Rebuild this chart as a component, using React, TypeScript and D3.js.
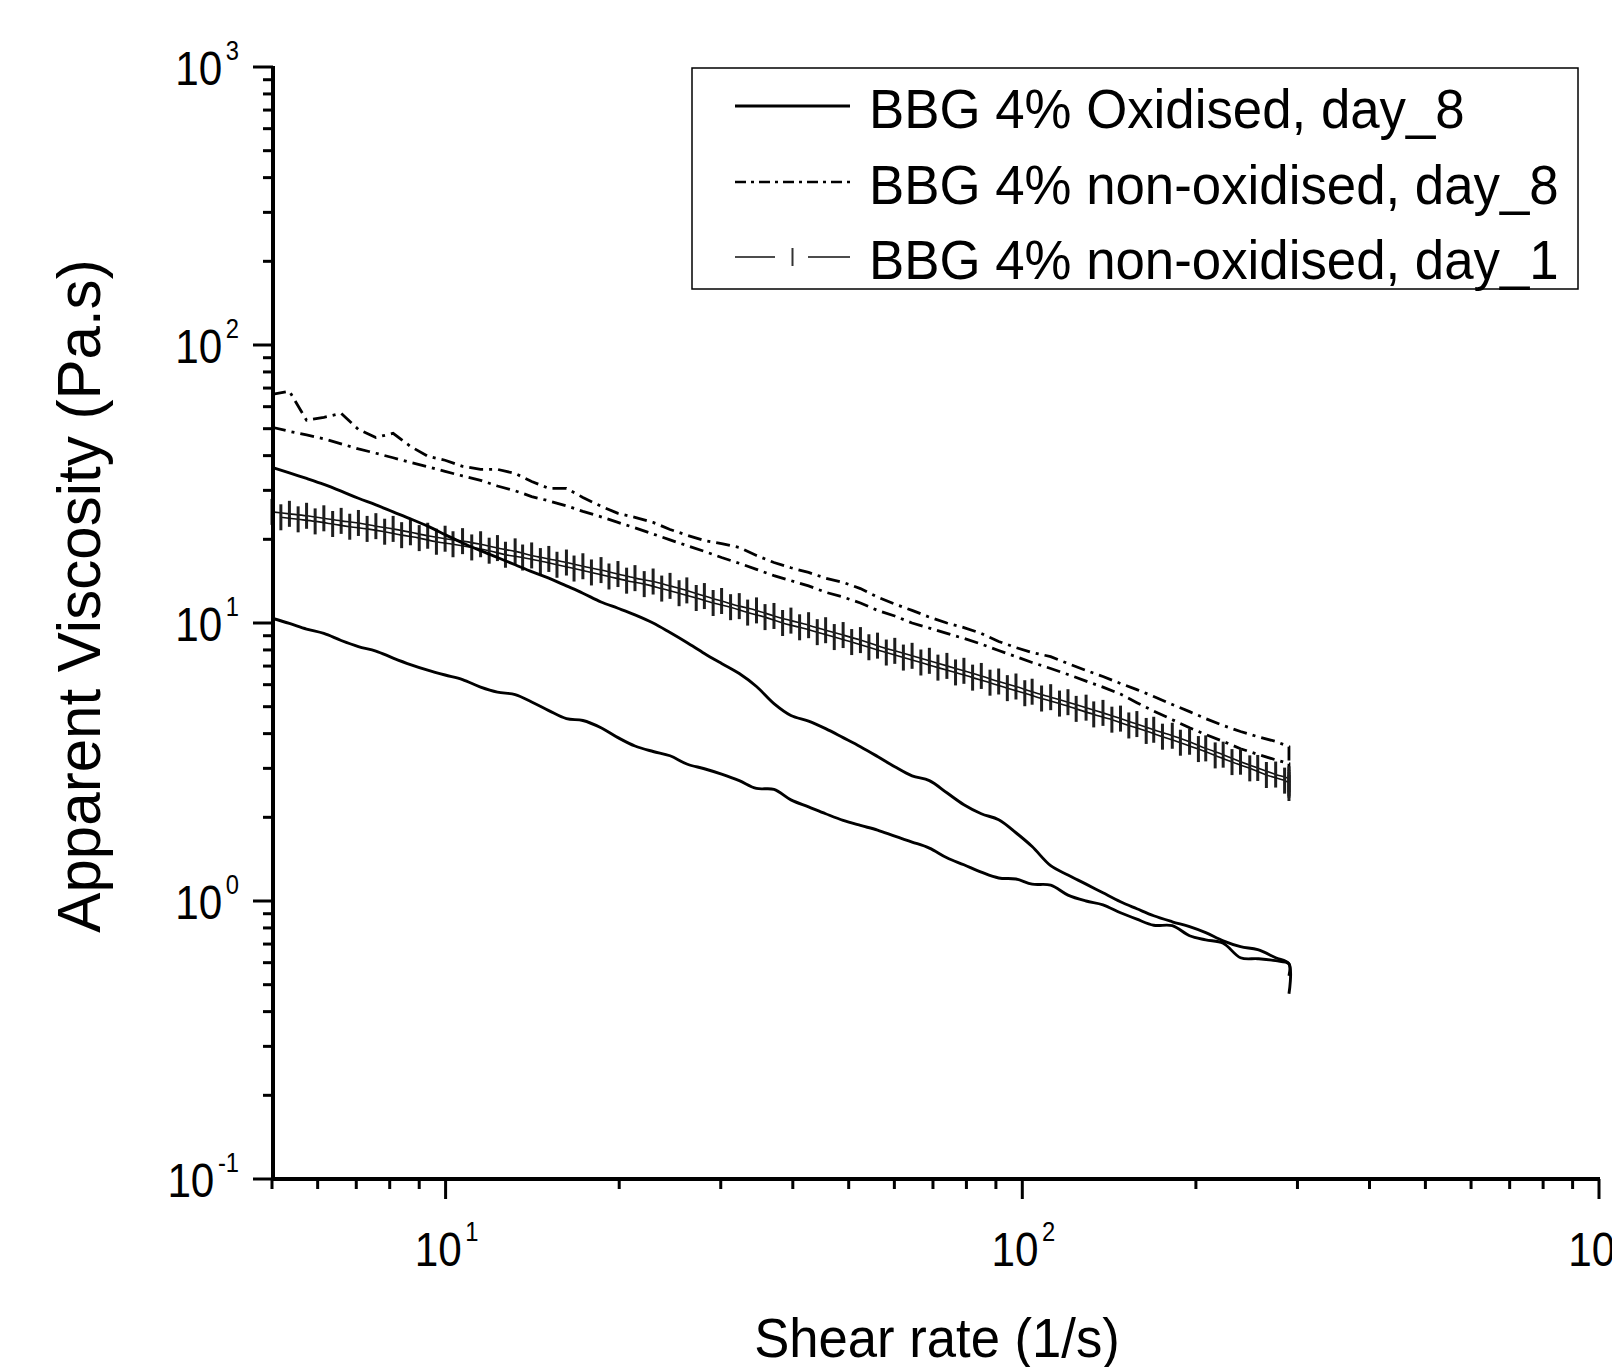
import React from "react";
import * as d3 from "d3";

// shear rate grid (1/s) of the sweeps, last point repeated at the end of the sweep
const shearRate = [
  5.0, 5.36, 5.74, 6.15, 6.59, 7.06, 7.57, 8.11, 8.69, 9.31,
  9.98, 10.7, 11.5, 12.3, 13.2, 14.1, 15.1, 16.2, 17.3, 18.6,
  19.9, 21.3, 22.9, 24.5, 26.2, 28.1, 30.1, 32.3, 34.6, 37.1,
  39.7, 42.6, 45.6, 48.9, 52.4, 56.1, 60.1, 64.4, 69.0, 74.0,
  79.2, 84.9, 91.0, 97.5, 104, 112, 120, 129, 138, 148,
  158, 169, 182, 195, 208, 223, 239, 256, 275, 290, 290,
];
// second replicate of day_1 was logged at slightly offset rates
const shearRateB = [
  5.18, 5.55, 5.94, 6.37, 6.82, 7.31, 7.84, 8.39, 9.0, 9.64,
  10.3, 11.1, 11.9, 12.7, 13.6, 14.6, 15.6, 16.7, 17.9, 19.2,
  20.6, 22.1, 23.7, 25.4, 27.2, 29.1, 31.2, 33.4, 35.8, 38.4,
  41.1, 44.1, 47.2, 50.6, 54.2, 58.1, 62.2, 66.7, 71.4, 76.6,
  82.0, 87.9, 94.2, 101, 108, 116, 124, 133, 143, 153,
  164, 175, 188, 202, 216, 231, 248, 265, 285, 290, 290,
];

// apparent viscosity (Pa.s)
const oxDay8A = [
  36.3, 34.7, 33.1, 31.5, 29.8, 28.1, 26.6, 25.1, 23.7, 22.3,
  20.8, 19.4, 18.2, 17.2, 16.2, 15.3, 14.5, 13.6, 12.8, 11.9,
  11.3, 10.7, 10.0, 9.24, 8.51, 7.77, 7.15, 6.58, 5.91, 5.13,
  4.65, 4.44, 4.17, 3.87, 3.59, 3.31, 3.04, 2.82, 2.71, 2.45,
  2.22, 2.06, 1.96, 1.76, 1.57, 1.34, 1.24, 1.15, 1.07, 0.994,
  0.938, 0.885, 0.842, 0.808, 0.769, 0.719, 0.685, 0.668, 0.625, 0.594, 0.464,
];
const oxDay8B = [
  10.4, 9.96, 9.51, 9.17, 8.65, 8.23, 7.93, 7.48, 7.09, 6.77,
  6.5, 6.26, 5.88, 5.64, 5.53, 5.2, 4.84, 4.53, 4.46, 4.2,
  3.87, 3.61, 3.45, 3.33, 3.11, 2.99, 2.86, 2.71, 2.54, 2.52,
  2.31, 2.18, 2.06, 1.95, 1.87, 1.8, 1.71, 1.63, 1.55, 1.43,
  1.35, 1.27, 1.21, 1.2, 1.15, 1.14, 1.05, 1.0, 0.969, 0.907,
  0.86, 0.818, 0.815, 0.75, 0.725, 0.705, 0.625, 0.62, 0.61, 0.594, 0.538,
];
const nonOxDay8A = [
  66.5, 68.2, 53.6, 54.9, 56.8, 49.7, 46.5, 48.1, 43.2, 39.8,
  38.5, 36.6, 35.7, 35.7, 34.5, 32.3, 30.5, 30.5, 28.3, 26.3,
  24.8, 24.0, 23.0, 21.7, 20.7, 19.8, 19.3, 18.7, 17.5, 16.5,
  15.8, 15.2, 14.5, 14.0, 13.3, 12.4, 11.7, 11.1, 10.5, 10.0,
  9.63, 9.17, 8.58, 8.16, 7.83, 7.57, 7.15, 6.75, 6.42, 6.06,
  5.76, 5.44, 5.09, 4.8, 4.53, 4.28, 4.07, 3.9, 3.75, 3.59, 3.15,
];
const nonOxDay8B = [
  50.6, 48.9, 47.5, 46.0, 44.1, 42.3, 40.8, 39.3, 37.8, 36.5,
  35.1, 33.8, 32.6, 31.1, 29.9, 28.5, 27.5, 26.4, 25.2, 24.1,
  23.0, 22.0, 20.9, 19.9, 19.0, 18.1, 17.2, 16.4, 15.6, 14.8,
  14.2, 13.6, 12.9, 12.4, 11.8, 11.1, 10.6, 10.0, 9.59, 9.17,
  8.8, 8.4, 7.96, 7.57, 7.21, 6.86, 6.53, 6.18, 5.88, 5.55,
  5.17, 4.82, 4.49, 4.2, 3.97, 3.75, 3.53, 3.37, 3.22, 3.12, 2.94,
];
const nonOxDay1A = [
  25.1, 24.7, 24.3, 23.8, 23.3, 22.9, 22.3, 21.8, 21.2, 20.6,
  20.1, 19.7, 19.2, 18.6, 18.1, 17.5, 17.0, 16.5, 16.0, 15.5,
  15.0, 14.5, 14.1, 13.6, 13.1, 12.5, 12.0, 11.5, 11.1, 10.6,
  10.2, 9.82, 9.42, 9.05, 8.68, 8.29, 7.94, 7.62, 7.31, 7.01,
  6.73, 6.45, 6.16, 5.91, 5.66, 5.41, 5.19, 4.96, 4.75, 4.53,
  4.33, 4.13, 3.93, 3.74, 3.54, 3.36, 3.17, 3.01, 2.85, 2.74, 2.62,
];
const nonOxDay1B = [
  24.0, 23.6, 23.2, 22.7, 22.2, 21.8, 21.3, 20.7, 20.2, 19.6,
  19.2, 18.7, 18.2, 17.6, 17.2, 16.7, 16.2, 15.7, 15.2, 14.7,
  14.2, 13.8, 13.3, 12.8, 12.3, 11.8, 11.4, 10.9, 10.5, 10.0,
  9.65, 9.27, 8.9, 8.54, 8.18, 7.83, 7.51, 7.21, 6.91, 6.64,
  6.36, 6.1, 5.83, 5.59, 5.35, 5.13, 4.91, 4.69, 4.49, 4.28,
  4.09, 3.9, 3.71, 3.52, 3.34, 3.16, 3.0, 2.84, 2.71, 2.66, 2.55,
];

const legendLabels = [
  "BBG 4% Oxidised, day_8",
  "BBG 4% non-oxidised, day_8",
  "BBG 4% non-oxidised, day_1",
];
const xTitle = "Shear rate (1/s)";
const yTitle = "Apparent Viscosity (Pa.s)";

const FONT = '"Liberation Sans", Arial, Helvetica, sans-serif';
const DASHDOT = "14 6 3 6";

type Pt = [number, number];

const PowLabel = ({ x, y, exp, anchor }: { x: number; y: number; exp: number; anchor: string }) => (
  <g transform={`translate(${x},${y}) scale(0.88,1)`}>
    <text textAnchor={anchor} fontSize={48} fontFamily={FONT} fill="#000">
      10
      <tspan dx={4} dy={-25} fontSize={27}>
        {String(exp)}
      </tspan>
    </text>
  </g>
);

export default function App() {
  const width = 1612;
  const height = 1367;
  const x = d3.scaleLog().domain([5, 1000]).range([272, 1599]);
  const y = d3.scaleLog().domain([0.1, 1000]).range([1179, 67]);

  const line = d3
    .line<Pt>()
    .x((d) => x(d[0]))
    .y((d) => y(d[1]));
  const smooth = d3
    .line<Pt>()
    .x((d) => x(d[0]))
    .y((d) => y(d[1]))
    .curve(d3.curveCatmullRom.alpha(0.5));
  const pts = (xs: number[], ys: number[]): Pt[] => ys.map((v, i) => [xs[i], v] as Pt);

  const isMajor = (v: number) => Math.abs(Math.log10(v) - Math.round(Math.log10(v))) < 1e-6;
  const xTicks = x.ticks();
  const yTicks = y.ticks();

  const axisX = x.range()[0] + 1;
  const axisY = y.range()[0];

  const day1 = [pts(shearRate, nonOxDay1A), pts(shearRateB, nonOxDay1B)];

  // legend rows
  const legX0 = 735;
  const legX1 = 850;
  const legRows = [106, 182, 257];

  return (
    <svg
      width={width}
      height={height}
      style={{ position: "absolute", left: 0, top: 0, background: "#fff" }}
    >
      <rect x={0} y={0} width={width} height={height} fill="#fff" />

      {/* non-oxidised day_8, dash-dot */}
      {[nonOxDay8A, nonOxDay8B].map((s, i) => (
        <path
          key={"n8" + i}
          d={line(pts(shearRate, s)) || ""}
          fill="none"
          stroke="#000"
          strokeWidth={2.8}
          strokeDasharray={DASHDOT}
        />
      ))}

      {/* non-oxidised day_1, thin line with vertical bar symbols */}
      {day1.map((p, i) => (
        <g key={"d1" + i}>
          <path d={smooth(p) || ""} fill="none" stroke="#111" strokeWidth={1.6} />
          {p.map((d, j) => (
            <line
              key={j}
              x1={x(d[0])}
              x2={x(d[0])}
              y1={y(d[1]) - 13}
              y2={y(d[1]) + 13}
              stroke="#1e1e1e"
              strokeWidth={3}
            />
          ))}
        </g>
      ))}

      {/* oxidised day_8, solid */}
      {[oxDay8A, oxDay8B].map((s, i) => (
        <path
          key={"o8" + i}
          d={smooth(pts(shearRate, s)) || ""}
          fill="none"
          stroke="#000"
          strokeWidth={2.9}
          strokeLinejoin="round"
        />
      ))}

      {/* axes */}
      <line x1={axisX} x2={axisX} y1={y.range()[1] - 1} y2={axisY + 2} stroke="#000" strokeWidth={4} />
      <line x1={axisX - 2} x2={x.range()[1] + 1} y1={axisY} y2={axisY} stroke="#000" strokeWidth={4} />

      {yTicks.map((t, i) => (
        <line
          key={"yt" + i}
          x1={axisX}
          x2={axisX - (isMajor(t) ? 20 : 10)}
          y1={y(t)}
          y2={y(t)}
          stroke="#000"
          strokeWidth={3}
        />
      ))}
      {xTicks.map((t, i) => (
        <line
          key={"xt" + i}
          x1={x(t)}
          x2={x(t)}
          y1={axisY}
          y2={axisY + (isMajor(t) ? 20 : 10)}
          stroke="#000"
          strokeWidth={3}
        />
      ))}

      {yTicks.filter(isMajor).map((t, i) => (
        <PowLabel key={"yl" + i} x={239} y={y(t) + 18} exp={Math.round(Math.log10(t))} anchor="end" />
      ))}
      {xTicks.filter(isMajor).map((t, i) => (
        <PowLabel key={"xl" + i} x={x(t) + 1} y={1266} exp={Math.round(Math.log10(t))} anchor="middle" />
      ))}

      {/* axis titles */}
      <g transform="translate(937,1357) scale(0.94,1)">
        <text textAnchor="middle" fontSize={56} fontFamily={FONT}>
          {xTitle}
        </text>
      </g>
      <g transform="translate(100,596) rotate(-90) scale(0.985,1)">
        <text textAnchor="middle" fontSize={61} fontFamily={FONT}>
          {yTitle}
        </text>
      </g>

      {/* legend */}
      <rect x={692} y={68} width={886} height={221} fill="#fff" stroke="#000" strokeWidth={1.5} />
      <line x1={legX0} x2={legX1} y1={legRows[0]} y2={legRows[0]} stroke="#000" strokeWidth={2.8} />
      <line
        x1={legX0}
        x2={legX1}
        y1={legRows[1]}
        y2={legRows[1]}
        stroke="#000"
        strokeWidth={2.4}
        strokeDasharray="11 5 3 5"
      />
      <line x1={legX0} x2={legX0 + 40} y1={legRows[2]} y2={legRows[2]} stroke="#111" strokeWidth={1.6} />
      <line x1={legX1 - 42} x2={legX1} y1={legRows[2]} y2={legRows[2]} stroke="#111" strokeWidth={1.6} />
      <line
        x1={(legX0 + legX1) / 2}
        x2={(legX0 + legX1) / 2}
        y1={legRows[2] - 9}
        y2={legRows[2] + 9}
        stroke="#333"
        strokeWidth={2}
      />
      {legendLabels.map((l, i) => (
        <g key={"lg" + i} transform={`translate(869,${legRows[i] + 22}) scale(0.96,1)`}>
          <text fontSize={55} fontFamily={FONT}>
            {l}
          </text>
        </g>
      ))}
    </svg>
  );
}
